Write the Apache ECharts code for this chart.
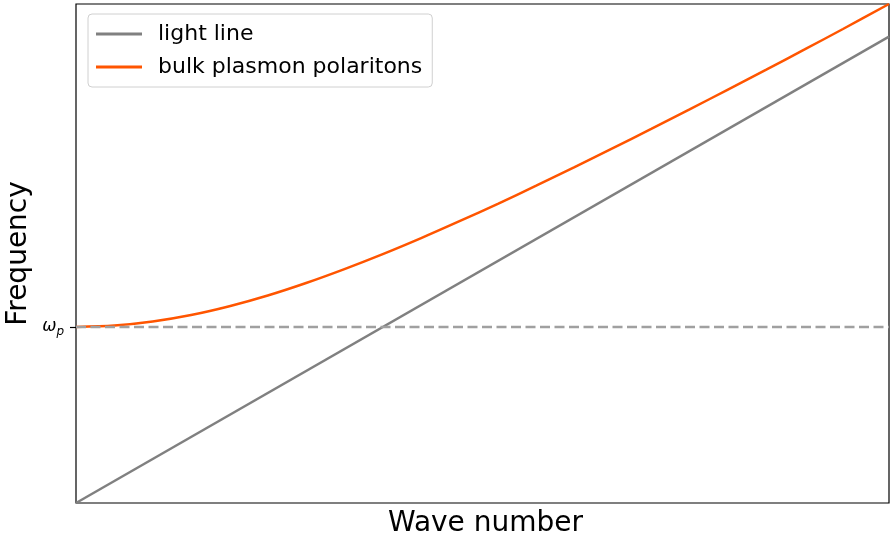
<!DOCTYPE html>
<html>
<head>
<meta charset="utf-8">
<script src="https://cdn.jsdelivr.net/npm/echarts@6/dist/echarts.min.js"></script>
<style>html,body{margin:0;padding:0;background:#fff}#c{width:890px;height:541px}</style>
</head>
<body>
<div id="c"></div>
<script>
// Wave number (units of omega_p / c)
const waveNumbers = [0, 0.125, 0.25, 0.375, 0.5, 0.625, 0.75, 0.875, 1.0, 1.125, 1.25,
                     1.375, 1.5, 1.625, 1.75, 1.875, 2.0, 2.125, 2.25, 2.375, 2.5, 2.65];
// Bulk plasmon polariton frequency (units of omega_p)
const plasmonFreq = [1.000, 1.008, 1.031, 1.068, 1.118, 1.179, 1.250, 1.329, 1.414, 1.505, 1.601,
                     1.700, 1.803, 1.908, 2.016, 2.125, 2.236, 2.349, 2.462, 2.577, 2.693, 2.835];
// Light line endpoints
const lightK = [0, 2.65];
const lightFreq = [0, 2.65];
const plasmaFreq = 1.0;
const yTickValues = [1.0];
const seriesNames = ['light line', 'bulk plasmon polaritons'];

const font = 'DejaVu Sans';
const chart = echarts.init(document.getElementById('c'), null, {renderer: 'canvas'});
chart.setOption({
  animation: false,
  backgroundColor: '#fff',
  grid: {left: 76, right: 1, top: 4, bottom: 38, containLabel: false, outerBoundsMode: 'none',
         show: true, borderColor: '#000', borderWidth: 1.2, backgroundColor: 'transparent'},
  legend: {
    orient: 'vertical', left: 88, top: 14,
    padding: [9, 10, 9, 8],
    icon: 'rect',
    itemWidth: 46, itemHeight: 3, itemGap: 11,
    borderColor: '#d0d0d0', borderWidth: 1, borderRadius: 4, backgroundColor: '#fff',
    textStyle: {fontFamily: font, fontSize: 22, lineHeight: 22, color: '#000', padding: [0, 0, 0, 11]},
    data: seriesNames
  },
  xAxis: {
    type: 'value', min: 0, max: 2.65,
    name: 'Wave number', nameLocation: 'middle', nameGap: 7,
    nameTextStyle: {fontFamily: font, fontSize: 28, color: '#000', verticalAlign: 'top', padding: [0, 0, 0, 6]},
    axisLine: {show: false}, axisTick: {show: false}, axisLabel: {show: false}, splitLine: {show: false}
  },
  yAxis: {
    type: 'value', min: 0, max: 2.835,
    name: 'Frequency', nameLocation: 'middle', nameGap: 43, nameRotate: 90, nameMoveOverlap: false,
    nameTextStyle: {fontFamily: font, fontSize: 28, color: '#000'},
    axisLine: {show: false},
    axisTick: {show: true, customValues: yTickValues, length: 6, lineStyle: {color: '#000', width: 1.2}},
    axisLabel: {
      show: true, customValues: yTickValues, margin: 12,
      formatter: () => '{w|ω}{p|p}',
      rich: {
        w: {fontFamily: font, fontSize: 17, fontStyle: 'italic', color: '#000'},
        p: {fontFamily: font, fontSize: 12, fontStyle: 'italic', color: '#000', padding: [9, 0, 0, 0]}
      }
    },
    splitLine: {show: false}
  },
  series: [
    {
      name: seriesNames[0], type: 'line', symbol: 'none', z: 3,
      data: lightK.map((k, i) => [k, lightFreq[i]]),
      lineStyle: {color: '#808080', width: 2.5}, itemStyle: {color: '#808080'},
      markLine: {
        silent: true, symbol: 'none', label: {show: false},
        lineStyle: {color: '#a0a0a0', type: [10, 4.5], width: 2.3},
        data: [{yAxis: plasmaFreq}]
      }
    },
    {
      name: seriesNames[1], type: 'line', symbol: 'none', smooth: 0.3, z: 4,
      data: waveNumbers.map((k, i) => [k, plasmonFreq[i]]),
      lineStyle: {color: '#ff5500', width: 2.5}, itemStyle: {color: '#ff5500'}
    }
  ]
});
</script>
</body>
</html>
